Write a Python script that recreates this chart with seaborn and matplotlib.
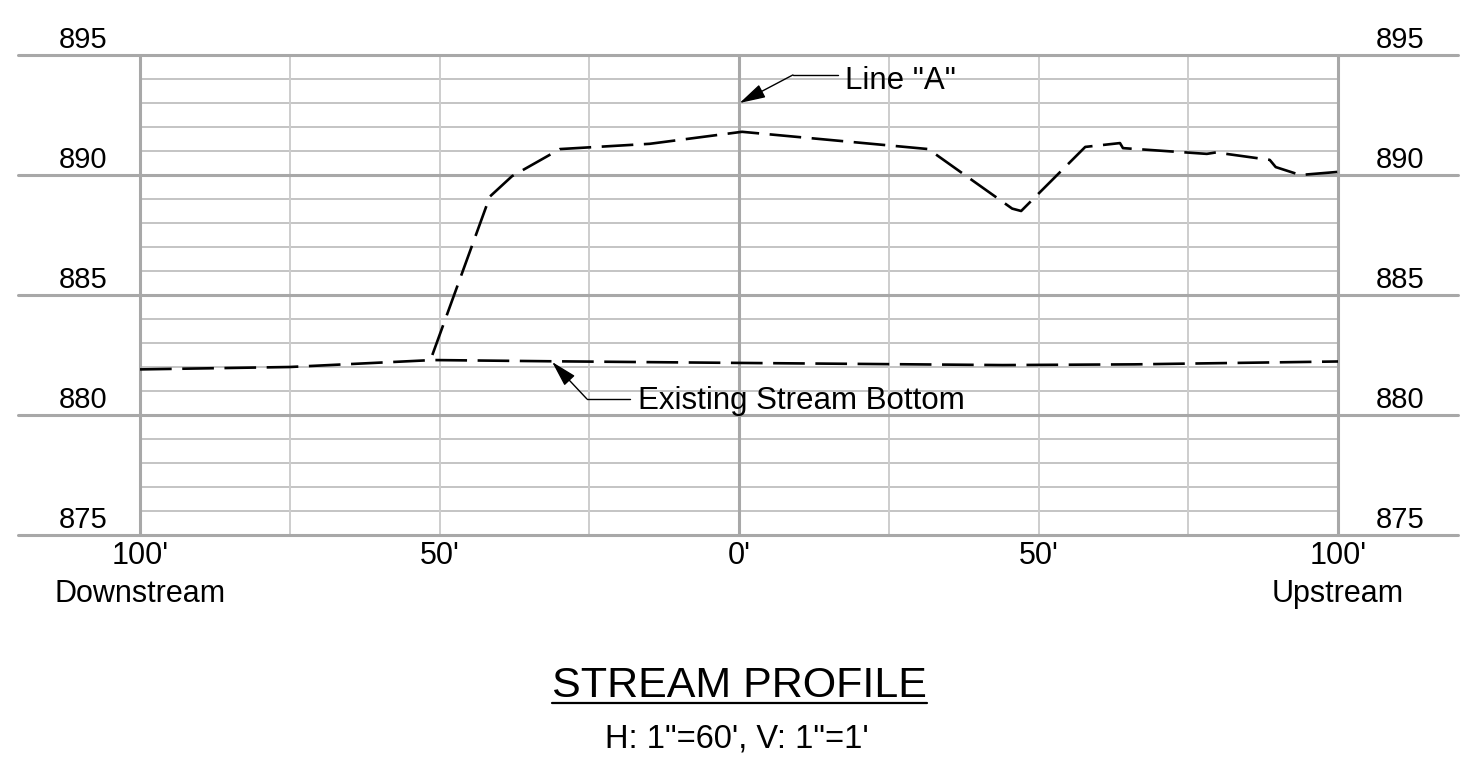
import matplotlib.pyplot as plt
import seaborn as sns

# profile data (station in ft, elevation in ft)
line_a_x = [-51.2, -41.6, -37.9, -29.9, -14.9, 0.5, 31.6, 45.6, 47.1, 57.8, 63.6, 64.1, 78.1, 79.6, 88.6, 89.6, 93.7, 100]
line_a_y = [882.5, 889.1, 889.95, 891.08, 891.3, 891.8, 891.08, 888.6, 888.5, 891.17, 891.33, 891.12, 890.88, 890.94, 890.63, 890.33, 890.0, 890.13]

bottom_x = [-100, -75, -51.1, -32, 0, 44, 66, 100]
bottom_y = [881.9, 882.0, 882.29, 882.24, 882.17, 882.08, 882.11, 882.23]

x_ticks = [-100, -50, 0, 50, 100]
x_labels = ["100'\nDownstream", "50'", "0'", "50'", "100'\nUpstream"]
elev_major = [875, 880, 885, 890, 895]
elev_minor = [v for v in range(875, 896) if v % 5]
station_minor = [-75, -50, -25, 25, 50, 75]
station_major = [-100, 0, 100]

sns.set_theme(style='white')
plt.rcParams['font.family'] = ['Liberation Sans', 'DejaVu Sans']
plt.rcParams['text.color'] = 'black'

fig = plt.figure(figsize=(14.7, 7.83), dpi=100)
ax = fig.add_axes([18 / 1470, 248 / 783, 1440 / 1470, 480 / 783])
ax.set_xlim(-120.37, 120.03)
ax.set_ylim(875, 895)

# grid
ax.hlines(elev_minor, -100, 100, color='#b4b4b4', lw=1.1, zorder=1)
ax.vlines(station_minor, 875, 895, color='#cdcdcd', lw=1.4, zorder=1)
for v in elev_major:
    ax.axhline(v, color='#a8a8a8', lw=2.2, clip_on=False, zorder=2)
ax.vlines(station_major, 875, 895, color='#a8a8a8', lw=2.2, zorder=2)

# elevation labels on both sides
for v in elev_major:
    for xl in (-109.5, 110.35):
        ax.annotate(str(v), xy=(xl, v), xytext=(0, 5), textcoords='offset points',
                    ha='center', va='baseline', fontsize=21, color='black')

# profiles
dash = (0, (12, 4))
sns.lineplot(x=line_a_x, y=line_a_y, ax=ax, color='black', lw=1.9, linestyle=dash,
             estimator=None, sort=False, zorder=4)
sns.lineplot(x=bottom_x, y=bottom_y, ax=ax, color='black', lw=1.9, linestyle=dash,
             estimator=None, sort=False, zorder=4)

# callouts
arrow = dict(arrowstyle='-|>,head_length=0.8,head_width=0.22', color='black', lw=1,
             shrinkA=0, shrinkB=0, mutation_scale=20)
ax.annotate('', xy=(0.1, 893.0), xytext=(9.0, 894.17), arrowprops=arrow, zorder=5)
ax.plot([9.0, 16.5], [894.17, 894.17], color='black', lw=1, zorder=5)
ax.text(17.7, 894.08, 'Line "A"', fontsize=22.5, va='center_baseline', ha='left', zorder=5)

ax.annotate('', xy=(-31.2, 882.21), xytext=(-25.4, 880.67), arrowprops=arrow, zorder=5)
ax.plot([-25.4, -18.2], [880.67, 880.67], color='black', lw=1, zorder=5)
ax.text(-16.9, 880.75, 'Existing Stream Bottom', fontsize=22.5, va='center_baseline', ha='left', zorder=5)

ax.set_xticks(x_ticks)
ax.set_xticklabels(x_labels)
ax.set_yticks([])
ax.tick_params(axis='x', length=0, labelsize=22, pad=4, colors='black')
for t in ax.get_xticklabels():
    t.set_linespacing(1.35)
for s in ax.spines.values():
    s.set_visible(False)
ax.set_xlabel('')
ax.set_ylabel('')

# title block
title = fig.text(739.5 / 1470, 1 - 697 / 783, 'STREAM PROFILE', ha='center', va='baseline', fontsize=31)
fig.text(737 / 1470, 1 - 747 / 783, 'H: 1"=60\', V: 1"=1\'', ha='center', va='baseline', fontsize=23.5)
fig.canvas.draw()
bb = title.get_window_extent(fig.canvas.get_renderer())
uy = 1 - 703 / 783
fig.add_artist(plt.Line2D([bb.x0 / fig.bbox.width, bb.x1 / fig.bbox.width], [uy, uy], color='black', lw=1.6))

fig.savefig('out.png', dpi=100, facecolor='white')
